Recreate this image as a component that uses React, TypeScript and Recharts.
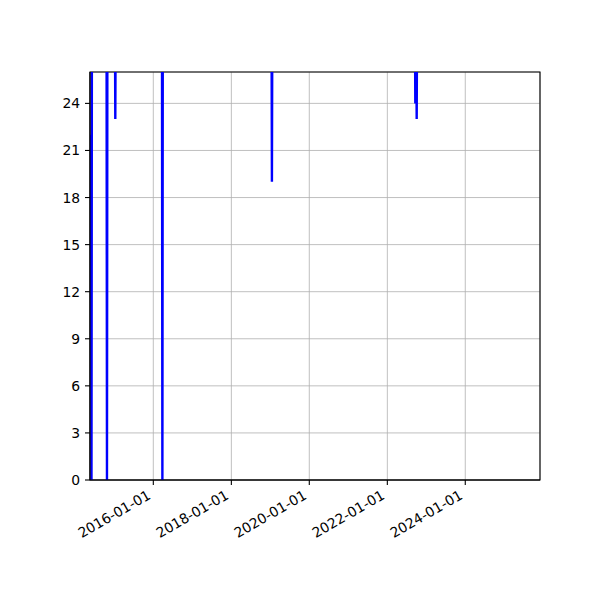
import React from "react";
import {
  LineChart, Line, XAxis, YAxis, CartesianGrid, ReferenceArea,
} from "recharts";

// daily readings; anything above the y-limit is clipped at the top frame
const dates = [
  "2014-05-25", "2014-05-28", "2014-06-01", "2014-06-05",
  "2014-10-20", "2014-10-24", "2014-10-28",
  "2015-01-06", "2015-01-10", "2015-01-14",
  "2016-03-22", "2016-03-26", "2016-03-30",
  "2019-01-12", "2019-01-16", "2019-01-20",
  "2022-09-16", "2022-09-20", "2022-09-26", "2022-10-03", "2022-10-07",
  "2025-11-30",
];
const values = [
  17, 22, 0, 30,
  30, 0, 30,
  30, 23, 30,
  30, 0, 30,
  30, 19, 30,
  30, 24, 30, 23, 30,
  30,
];
const xTickLabels = ["2016-01-01", "2018-01-01", "2020-01-01", "2022-01-01", "2024-01-01"];
const yTicks = [0, 3, 6, 9, 12, 15, 18, 21, 24];
const xLimits = ["2014-05-18", "2025-12-01"];
const yLimits = [0, 26];

const ms = (s: string) => Date.parse(s + "T00:00:00Z");
const data = dates.map((d, i) => ({ t: ms(d), v: values[i] }));
const xDomain = xLimits.map(ms);

const FONT = "DejaVu Sans";

// eslint-disable-next-line @typescript-eslint/no-explicit-any
function XTick({ x, y, payload }: any) {
  const px = x - 1.7;
  const py = y + 13;
  const label = new Date(payload.value).toISOString().slice(0, 10);
  return (
    <text x={px} y={py} textAnchor="end" transform={`rotate(-30, ${px}, ${py})`}
      fontSize={13.9} fontFamily={FONT} fill="#000">
      {label}
    </text>
  );
}

// eslint-disable-next-line @typescript-eslint/no-explicit-any
function YTick({ x, y, payload }: any) {
  return (
    <text x={x - 4.9} y={y} dy="0.36em" textAnchor="end" fontSize={13.9} fontFamily={FONT} fill="#000">
      {payload.value}
    </text>
  );
}

export default function App() {
  return (
    <div style={{ position: "absolute", left: 0, top: 0, width: 600, height: 600, background: "#fff" }}>
      <LineChart width={600} height={600} data={data} margin={{ top: 72, right: 60, left: 30, bottom: 0 }}>
        <CartesianGrid stroke="#b0b0b0" strokeWidth={0.8} />
        <XAxis dataKey="t" type="number" scale="time" domain={xDomain} allowDataOverflow
          ticks={xTickLabels.map(ms)} tick={<XTick />} height={120}
          tickSize={5} tickMargin={0} stroke="#000" strokeWidth={1.1} interval={0} />
        <YAxis type="number" domain={yLimits} allowDataOverflow ticks={yTicks} tick={<YTick />}
          width={60} tickSize={5} tickMargin={0} stroke="#000" strokeWidth={1.1} interval={0} />
        <Line type="linear" dataKey="v" stroke="#0000ff" strokeWidth={2.4} dot={false}
          isAnimationActive={false} />
        <ReferenceArea x1={xDomain[0]} x2={xDomain[1]} y1={yLimits[0]} y2={yLimits[1]}
          fill="none" fillOpacity={0} stroke="#000" strokeWidth={1.1} strokeOpacity={1} ifOverflow="visible" />
      </LineChart>
    </div>
  );
}
